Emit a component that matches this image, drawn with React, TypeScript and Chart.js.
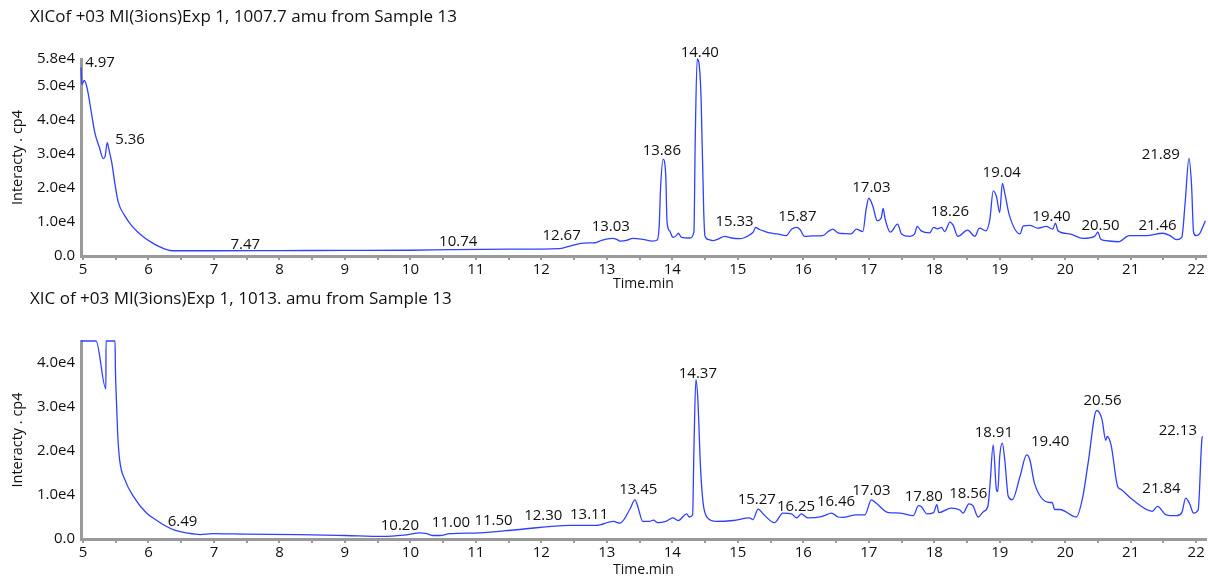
import React, { useEffect, useRef } from 'react';
import { Chart, registerables } from 'chart.js';

Chart.register(...registerables);

const FONT = '"Open Sans", "Noto Sans", sans-serif';
const LINE_COLOR = '#3040ff';
const AXIS_COLOR = '#9a9a9a';
const TEXT_COLOR = '#111111';

// ---------- Top chromatogram (1007.7 amu) ----------
const topTitle = 'XICof +03 MI(3ions)Exp 1, 1007.7 amu from Sample 13';
const topTimes = [
  4.97, 4.985, 5.02, 5.05, 5.08, 5.13, 5.18, 5.25, 5.31, 5.34, 5.37, 5.4, 5.44, 5.49, 5.54, 5.64, 5.74, 5.84, 5.94,
  6.04, 6.15, 6.29, 6.36, 7.0, 8.0, 9.0, 10.0, 10.6, 11.5, 12.28, 12.45, 12.64, 12.82, 12.92, 12.99, 13.09, 13.15,
  13.2, 13.3, 13.4, 13.55, 13.7, 13.77, 13.8, 13.82, 13.86, 13.9, 13.92, 13.96, 14.01, 14.06, 14.09, 14.14, 14.27,
  14.33, 14.35, 14.38, 14.41, 14.44, 14.48, 14.5, 14.56, 14.62, 14.7, 14.8, 14.9, 15.03, 15.18, 15.24, 15.27, 15.33,
  15.42, 15.49, 15.6, 15.74, 15.82, 15.9, 15.95, 16.02, 16.15, 16.3, 16.38, 16.45, 16.53, 16.63, 16.73, 16.81, 16.91,
  16.96, 17.0, 17.06, 17.13, 17.19, 17.22, 17.25, 17.33, 17.44, 17.5, 17.63, 17.7, 17.74, 17.8, 17.93, 17.99, 18.05,
  18.11, 18.16, 18.24, 18.29, 18.36, 18.51, 18.62, 18.69, 18.79, 18.85, 18.9, 18.95, 19.0, 19.04, 19.08, 19.15,
  19.31, 19.36, 19.46, 19.58, 19.71, 19.81, 19.85, 19.89, 20.07, 20.27, 20.45, 20.5, 20.54, 20.63, 20.81, 20.98,
  21.24, 21.49, 21.6, 21.7, 21.78, 21.83, 21.89, 21.93, 21.96, 22.0, 22.05, 22.14,
];
const topValues = [
  55500, 50500, 51700, 50500, 47800, 42000, 36400, 32000, 28700, 29500, 33400, 31000, 27500, 21000, 15800, 11800,
  9000, 7000, 5400, 4100, 2900, 1800, 1550, 1550, 1600, 1650, 1700, 1850, 2000, 2200, 3000, 3800, 3900, 4600, 5000,
  5200, 4900, 4400, 4600, 5200, 4900, 4400, 4700, 9000, 19700, 28500, 23600, 9900, 7400, 5500, 6000, 6700, 5500,
  5300, 7000, 34300, 58000, 56400, 46000, 12900, 5800, 4800, 4500, 5000, 5800, 5300, 5100, 6200, 7200, 8400, 7800,
  7200, 6800, 6500, 6000, 7900, 8400, 7800, 5800, 5900, 6000, 7200, 7900, 6800, 6600, 6500, 7900, 7200, 13800,
  17000, 14800, 10400, 11200, 14000, 10900, 7000, 9400, 6500, 5800, 6500, 8700, 7400, 6800, 8400, 8000, 8400, 7200,
  10000, 9000, 5800, 7600, 5800, 8200, 7400, 10900, 19200, 17500, 12800, 21400, 18200, 11800, 6500, 8900, 9000,
  8200, 8700, 7900, 9700, 7400, 6500, 5200, 5800, 7000, 5000, 4500, 4200, 6000, 6000, 6700, 6000, 4800, 5500,
  15300, 28700, 20600, 7000, 6000, 6500, 10400,
];
const topYTicks = [0, 10000, 20000, 30000, 40000, 50000, 58000];
const topPeakTexts = ['4.97', '5.36', '7.47', '10.74', '12.67', '13.03', '13.86', '14.40', '15.33', '15.87', '17.03', '18.26', '19.04', '19.40', '20.50', '21.46', '21.89'];
const topPeakX = [5.26, 5.72, 7.48, 10.73, 12.31, 13.06, 13.84, 14.42, 14.95, 15.91, 17.04, 18.24, 19.03, 19.79, 20.54, 21.41, 21.46];
const topPeakY = [57000, 34300, 3200, 4300, 5900, 8600, 30900, 59800, 10200, 11700, 20200, 13000, 24600, 11500, 8900, 8900, 29700];

// ---------- Bottom chromatogram (1013. amu) ----------
const bottomTitle = 'XIC of +03 MI(3ions)Exp 1, 1013. amu from Sample 13';
const bottomTimes = [
  4.97, 5.2, 5.35, 5.352, 5.49, 5.495, 5.51, 5.53, 5.56, 5.64, 5.77, 5.97, 6.1, 6.27, 6.4, 6.58, 6.79, 6.98, 7.5,
  8.31, 9.0, 9.58, 9.9, 10.15, 10.25, 10.35, 10.45, 10.6, 11.06, 11.62, 12.44, 12.84, 13.1, 13.2, 13.35, 13.43,
  13.47, 13.55, 13.65, 13.71, 13.78, 13.9, 14.01, 14.09, 14.22, 14.26, 14.31, 14.33, 14.36, 14.39, 14.43, 14.47,
  14.54, 14.67, 14.93, 15.18, 15.23, 15.31, 15.4, 15.56, 15.69, 15.82, 15.9, 15.97, 16.07, 16.28, 16.32, 16.43,
  16.53, 16.6, 16.81, 16.94, 17.04, 17.11, 17.3, 17.47, 17.68, 17.76, 17.8, 17.89, 17.99, 18.04, 18.07, 18.26,
  18.39, 18.44, 18.53, 18.59, 18.67, 18.75, 18.82, 18.85, 18.9, 18.95, 18.97, 19.0, 19.04, 19.08, 19.13, 19.19,
  19.31, 19.41, 19.46, 19.53, 19.76, 19.8, 19.84, 19.92, 20.17, 20.27, 20.35, 20.48, 20.56, 20.62, 20.64, 20.7,
  20.8, 20.85, 21.03, 21.33, 21.41, 21.54, 21.7, 21.78, 21.84, 21.9, 21.96, 22.03, 22.09, 22.1,
];
const bottomValues = [
  45000, 45000, 34100, 45000, 45000, 39000, 32000, 24000, 18000, 13500, 9700, 5900, 4500, 2900, 2000, 1400, 1000,
  1200, 1100, 1000, 800, 600, 900, 1400, 1200, 800, 800, 1200, 1400, 2100, 3100, 3100, 4000, 3600, 6700, 8900, 7500,
  4000, 4000, 4300, 3700, 4000, 4800, 4200, 5700, 5000, 5500, 20300, 36200, 31700, 16500, 8200, 4800, 4000, 4200,
  4800, 4400, 6800, 5500, 3700, 5900, 5700, 4800, 5700, 4800, 5100, 5300, 5900, 5000, 4900, 5500, 5500, 8900, 8200,
  6000, 5900, 5300, 7600, 7400, 5700, 6000, 7800, 6000, 7000, 6600, 5900, 8000, 7600, 5000, 6200, 7500, 12000, 21400,
  11200, 10800, 18800, 21800, 17500, 9700, 8900, 14200, 19100, 18000, 12700, 8300, 8300, 6700, 6700, 5000, 9700,
  17300, 29200, 27300, 22400, 23300, 21400, 12000, 11300, 8900, 6300, 7400, 5500, 5300, 6000, 9300, 8000, 5900,
  6600, 23000, 23300,
];
const bottomYTicks = [0, 10000, 20000, 30000, 40000];
const bottomPeakTexts = ['6.49', '10.20', '11.00', '11.50', '12.30', '13.11', '13.45', '14.37', '15.27', '16.25', '16.46', '17.03', '17.80', '18.56', '18.91', '19.40', '20.56', '21.84', '22.13'];
const bottomPeakX = [6.52, 9.84, 10.62, 11.27, 12.03, 12.73, 13.48, 14.39, 15.29, 15.89, 16.5, 17.04, 17.84, 18.52, 18.91, 19.77, 20.57, 21.47, 21.72];
const bottomPeakY = [4000, 3000, 3600, 4200, 5400, 5500, 11200, 37500, 8900, 7300, 8500, 11000, 9700, 10300, 24100, 22200, 31500, 11500, 24500];

const xTicks = [5, 5.5, 6, 6.5, 7, 7.5, 8, 8.5, 9, 9.5, 10, 10.5, 11, 11.5, 12, 12.5, 13, 13.5, 14, 14.5, 15, 15.5, 16, 16.5, 17, 17.5, 18, 18.5, 19, 19.5, 20, 20.5, 21, 21.5, 22];
const X_MIN = 4.97;
const X_MAX = 22.15;

type Props = {
  title: string;
  times: number[];
  values: number[];
  yMax: number;
  yTicks: number[];
  peakTexts: string[];
  peakX: number[];
  peakY: number[];
  height: number;
  plotTop: number;
  xAxisHeight: number;
  titleY: number;
  xTitlePad: number;
  top: number;
};

function fmtY(v: number) {
  if (v === 0) return '0.0';
  return (v / 10000).toFixed(1) + 'e4';
}

function Chromatogram(p: Props) {
  const ref = useRef<HTMLCanvasElement | null>(null);
  useEffect(() => {
    if (!ref.current) return;
    const peakPlugin = {
      id: 'peakLabels',
      afterDatasetsDraw(chart: any) {
        const { ctx, scales } = chart;
        ctx.save();
        ctx.font = `15px ${FONT}`;
        ctx.fillStyle = TEXT_COLOR;
        ctx.textAlign = 'center';
        ctx.textBaseline = 'middle';
        p.peakTexts.forEach((t, i) => {
          ctx.fillText(t, scales.x.getPixelForValue(p.peakX[i]), scales.y.getPixelForValue(p.peakY[i]));
        });
        ctx.restore();
      },
    };
    const titlePlugin = {
      id: 'chromTitle',
      afterDraw(chart: any) {
        const { ctx } = chart;
        ctx.save();
        ctx.font = `17px ${FONT}`;
        ctx.fillStyle = TEXT_COLOR;
        ctx.textAlign = 'left';
        ctx.textBaseline = 'middle';
        ctx.fillText(p.title, 30, p.titleY);
        ctx.restore();
      },
    };
    const chart = new Chart(ref.current, {
      type: 'line',
      data: {
        datasets: [
          {
            data: p.times.map((t, i) => ({ x: t, y: p.values[i] })),
            borderColor: LINE_COLOR,
            borderWidth: 1.3,
            pointRadius: 0,
            fill: false,
            cubicInterpolationMode: 'monotone',
            clip: false as any,
          },
        ],
      },
      options: {
        animation: false,
        responsive: false,
        devicePixelRatio: 1,
        layout: { padding: { top: p.plotTop, left: 0, right: 2, bottom: 0 } },
        plugins: { legend: { display: false }, tooltip: { enabled: false }, title: { display: false } },
        scales: {
          x: {
            type: 'linear',
            min: X_MIN,
            max: X_MAX,
            afterBuildTicks(scale: any) {
              scale.ticks = xTicks.map((v) => ({ value: v }));
            },
            afterFit(scale: any) {
              scale.height = p.xAxisHeight;
            },
            ticks: {
              autoSkip: false,
              maxRotation: 0,
              padding: 1,
              color: TEXT_COLOR,
              font: { family: FONT, size: 15 },
              callback: (v: any) => (Number.isInteger(v) ? String(v) : ''),
            },
            grid: { drawOnChartArea: false, drawTicks: true, tickLength: 4, color: AXIS_COLOR, lineWidth: 2 },
            border: { display: true, color: AXIS_COLOR, width: 3 },
            title: {
              display: true,
              text: 'Time.min',
              color: TEXT_COLOR,
              font: { family: FONT, size: 14 },
              padding: { top: 0, bottom: p.xTitlePad },
            },
          },
          y: {
            type: 'linear',
            min: 0,
            max: p.yMax,
            afterBuildTicks(scale: any) {
              scale.ticks = p.yTicks.map((v) => ({ value: v }));
            },
            afterFit(scale: any) {
              scale.width = 81;
            },
            ticks: {
              padding: 6,
              color: TEXT_COLOR,
              font: { family: FONT, size: 15 },
              callback: (v: any) => fmtY(Number(v)),
            },
            grid: { display: false, drawTicks: false },
            border: { display: true, color: AXIS_COLOR, width: 3 },
            title: {
              display: true,
              text: 'Interacty . cp4',
              color: TEXT_COLOR,
              font: { family: FONT, size: 14.5 },
              padding: { top: 9, bottom: 0 },
            },
          },
        },
      } as any,
      plugins: [peakPlugin, titlePlugin],
    });
    return () => chart.destroy();
  }, []);
  return (
    <canvas
      ref={ref}
      width={1208}
      height={p.height}
      style={{ display: 'block', position: 'absolute', left: 0, top: p.top, width: 1208, height: p.height }}
    />
  );
}

export default function App() {
  return (
    <div style={{ position: 'fixed', left: 0, top: 0, width: 1208, height: 581, background: '#ffffff', overflow: 'hidden' }}>
      <Chromatogram
        title={topTitle}
        times={topTimes}
        values={topValues}
        yMax={58000}
        yTicks={topYTicks}
        peakTexts={topPeakTexts}
        peakX={topPeakX}
        peakY={topPeakY}
        top={0}
        height={292}
        plotTop={59}
        xAxisHeight={36}
        titleY={17}
        xTitlePad={0}
      />
      <Chromatogram
        title={bottomTitle}
        times={bottomTimes}
        values={bottomValues}
        yMax={45000}
        yTicks={bottomYTicks}
        peakTexts={bottomPeakTexts}
        peakX={bottomPeakX}
        peakY={bottomPeakY}
        top={280}
        height={301}
        plotTop={61}
        xAxisHeight={42}
        titleY={19}
        xTitlePad={3}
      />
    </div>
  );
}
